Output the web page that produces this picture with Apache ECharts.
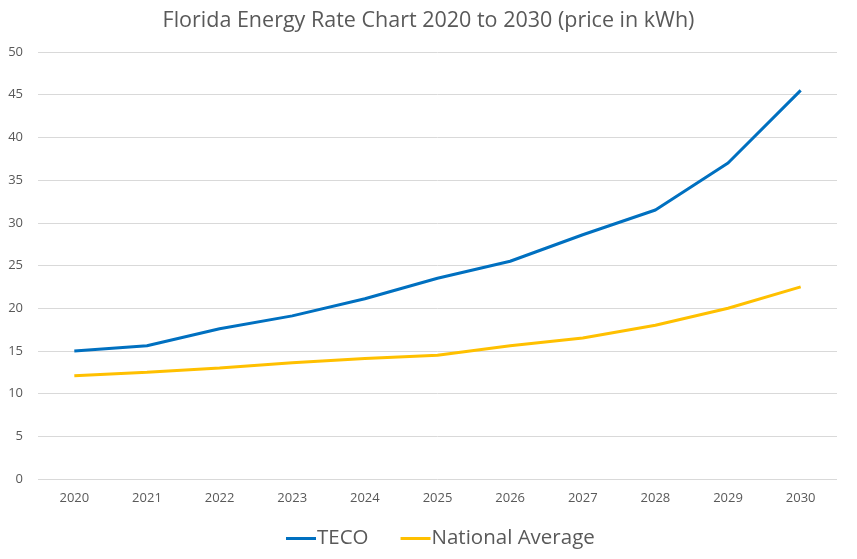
<!DOCTYPE html>
<html><head><meta charset="utf-8">
<script src="https://cdn.jsdelivr.net/npm/echarts@6/dist/echarts.min.js"></script>
<style>html,body{margin:0;padding:0;background:#fff}#c{width:857px;height:559px}</style>
</head><body><div id="c"></div>
<script>
const years = ['2020','2021','2022','2023','2024','2025','2026','2027','2028','2029','2030'];
const teco = [15.0, 15.6, 17.6, 19.1, 21.1, 23.5, 25.5, 28.6, 31.5, 37.0, 45.5];
const national = [12.1, 12.5, 13.0, 13.6, 14.1, 14.5, 15.6, 16.5, 18.0, 20.0, 22.5];
const chart = echarts.init(document.getElementById('c'));
const font = 'Open Sans, Liberation Sans, sans-serif';
chart.setOption({
  animation: false,
  title: { text: 'Florida Energy Rate Chart 2020 to 2030 (price in kWh)', left: 'center', top: 5,
    textStyle: { fontFamily: font, fontSize: 21.5, fontWeight: 'normal', color: '#595959' } },
  grid: { left: 38, right: 20, top: 52, bottom: 80 },
  legend: { left: 281, bottom: 5, itemWidth: 30, itemHeight: 3, itemGap: 32,
    icon: 'rect',
    textStyle: { fontFamily: font, fontSize: 20.5, color: '#595959', padding: [0,0,0,-4] },
    data: ['TECO', 'National Average'] },
  xAxis: { type: 'category', data: years, boundaryGap: true,
    axisLine: { show: false }, axisTick: { show: false },
    axisLabel: { fontFamily: font, fontSize: 13, color: '#595959', margin: 13 } },
  yAxis: { type: 'value', min: 0, max: 50, interval: 5,
    axisLine: { show: false }, axisTick: { show: false },
    splitLine: { lineStyle: { color: '#d9d9d9', width: 1 } },
    axisLabel: { fontFamily: font, fontSize: 13, color: '#595959', margin: 15 } },
  series: [
    { name: 'TECO', type: 'line', data: teco, showSymbol: false, symbol: 'none',
      lineStyle: { color: '#0070c0', width: 3 }, itemStyle: { color: '#0070c0' } },
    { name: 'National Average', type: 'line', data: national, showSymbol: false, symbol: 'none',
      lineStyle: { color: '#ffc000', width: 3 }, itemStyle: { color: '#ffc000' } }
  ]
});
</script></body></html>
